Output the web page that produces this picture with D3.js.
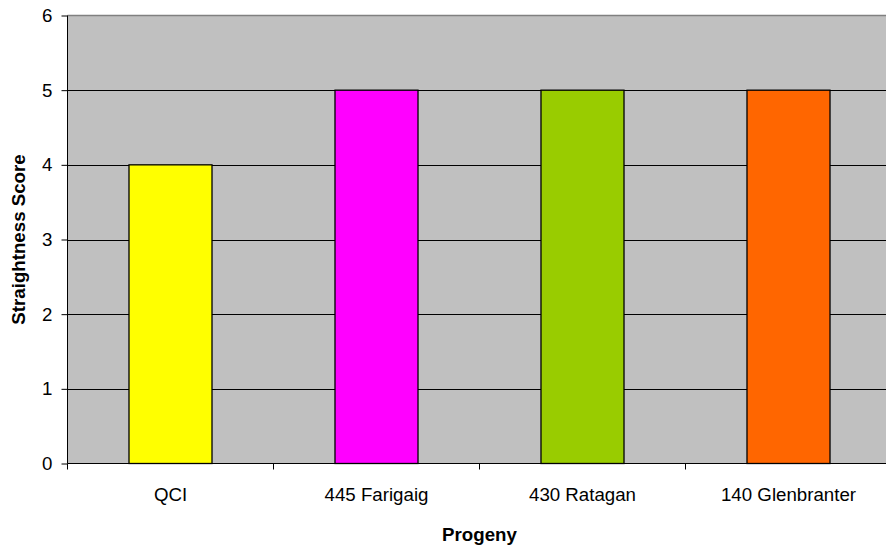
<!DOCTYPE html>
<html>
<head>
<meta charset="utf-8">
<script src="https://cdn.jsdelivr.net/npm/d3@7"></script>
<style>
  html, body { margin: 0; padding: 0; background: #fff; }
  svg { display: block; }
  text { font-family: Arial, "Liberation Sans", sans-serif; fill: #000; }
</style>
</head>
<body>
<svg id="chart" width="886" height="548"></svg>
<script>
// Progeny straightness scores
const categories = ["QCI", "445 Farigaig", "430 Ratagan", "140 Glenbranter"];
const scores = [4, 5, 5, 5];
const barColors = ["#FFFF00", "#FF00FF", "#99CC00", "#FF6600"];
const yTicks = [0, 1, 2, 3, 4, 5, 6];
const xTitle = "Progeny";
const yTitle = "Straightness Score";

const svg = d3.select("#chart");
const plot = { left: 67.5, right: 891.5, top: 15.5, bottom: 463.5 };

const x = d3.scaleBand().domain(categories).range([plot.left, plot.right]).padding(0);
const y = d3.scaleLinear().domain([0, 6]).range([plot.bottom, plot.top]);
const barW = x.bandwidth() * 0.403;

// plot area background
svg.append("rect")
  .attr("x", plot.left).attr("y", plot.top)
  .attr("width", plot.right - plot.left).attr("height", plot.bottom - plot.top)
  .attr("fill", "#C0C0C0");

// top border of the plot area
svg.append("line")
  .attr("x1", plot.left).attr("x2", plot.right)
  .attr("y1", plot.top).attr("y2", plot.top)
  .attr("stroke", "#808080").attr("stroke-width", 1.5);

// horizontal gridlines
svg.append("g").selectAll("line")
  .data(yTicks.filter(t => t > 0 && t < 6))
  .join("line")
  .attr("x1", plot.left).attr("x2", plot.right)
  .attr("y1", d => Math.round(y(d)) + 0.5).attr("y2", d => Math.round(y(d)) + 0.5)
  .attr("stroke", "#000").attr("stroke-width", 1);

// bars
svg.append("g").selectAll("rect")
  .data(categories)
  .join("rect")
  .attr("x", (d) => x(d) + (x.bandwidth() - barW) / 2)
  .attr("y", (d, i) => y(scores[i]))
  .attr("width", barW)
  .attr("height", (d, i) => y(0) - y(scores[i]))
  .attr("fill", (d, i) => barColors[i])
  .attr("stroke", "#000").attr("stroke-width", 1.3);

// y axis
const yAxis = d3.axisLeft(y).tickValues(yTicks).tickFormat(d3.format("d"))
  .tickSize(6).tickPadding(9);
const gy = svg.append("g").attr("transform", `translate(${plot.left},0)`).call(yAxis);
gy.select(".domain").attr("stroke", "#000").attr("d", `M0,${plot.top}V${plot.bottom}`);
gy.selectAll(".tick line").attr("stroke", "#000");
gy.selectAll(".tick text").attr("font-size", "18.7px").attr("font-family", "Arial, 'Liberation Sans', sans-serif").attr("fill", "#000");

// x axis: ticks at category boundaries
const gx = svg.append("g").attr("transform", `translate(0,${plot.bottom})`);
gx.append("line")
  .attr("x1", plot.left).attr("x2", plot.right).attr("y1", 0).attr("y2", 0)
  .attr("stroke", "#000");
gx.selectAll(".bt")
  .data(categories)
  .join("line")
  .attr("class", "bt")
  .attr("x1", d => x(d)).attr("x2", d => x(d))
  .attr("y1", 0).attr("y2", 6)
  .attr("stroke", "#000");
gx.selectAll(".cl")
  .data(categories)
  .join("text")
  .attr("class", "cl")
  .attr("x", d => x(d) + x.bandwidth() / 2)
  .attr("y", 37)
  .attr("text-anchor", "middle")
  .attr("font-size", "18.7px")
  .text(d => d);

// axis titles
svg.append("text")
  .attr("x", (plot.left + plot.right) / 2).attr("y", 541)
  .attr("text-anchor", "middle")
  .attr("font-size", "18.7px").attr("font-weight", "bold")
  .text(xTitle);

svg.append("text")
  .attr("transform", `translate(25,${(plot.top + plot.bottom) / 2}) rotate(-90)`)
  .attr("text-anchor", "middle")
  .attr("font-size", "18.7px").attr("font-weight", "bold")
  .text(yTitle);
</script>
</body>
</html>
